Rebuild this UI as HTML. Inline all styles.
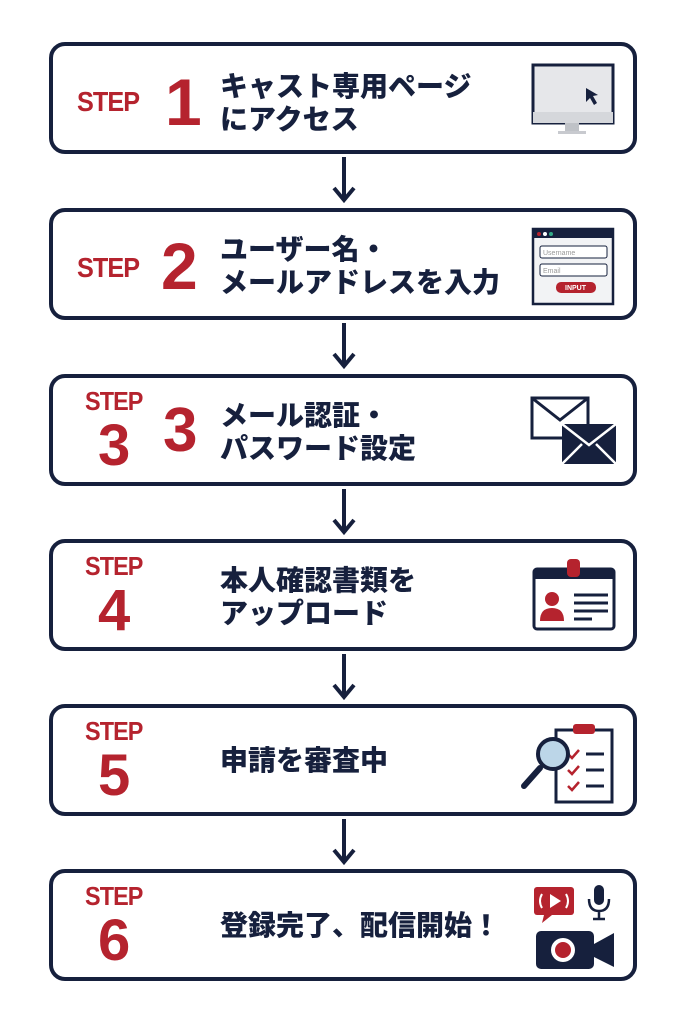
<!DOCTYPE html>
<html><head><meta charset="utf-8"><style>
body{margin:0;width:687px;height:1024px;background:#fff;position:relative;overflow:hidden;font-family:"Liberation Sans","Noto Sans CJK JP",sans-serif}
.box{position:absolute;left:49px;width:580px;height:104px;border:4px solid #16203d;border-radius:16px;background:#fff}
.t{position:absolute;left:167px;color:#16203d;font-weight:900;font-size:28px;line-height:33px;letter-spacing:0}
.st{position:absolute;color:#b5232e;font-weight:bold;font-size:28px;letter-spacing:-1px;transform:scaleX(0.9);transform-origin:left}
.n{position:absolute;color:#b5232e;font-weight:bold}
.ar{position:absolute;left:331px}
.ic{position:absolute;left:477px}
</style></head><body>

<div class="box" style="top:42px">
 <div class="st" style="left:24px;top:40px">STEP</div>
 <div class="n" style="left:112px;top:20px;font-size:66px;line-height:72px">1</div>
 <div class="t" style="top:24px">キャスト専用ページ<br>にアクセス</div>
 <svg class="ic" style="top:14px" width="90" height="80"><rect x="3" y="5" width="80" height="58" fill="#e6e7ea" stroke="#16203d" stroke-width="3"/><rect x="3" y="52" width="80" height="11" fill="#d5d7db"/><rect x="35" y="63" width="14" height="8" fill="#bfc2c7"/><rect x="28" y="71" width="28" height="3" fill="#c8cacf"/><path d="M56 28 L56 42 L60 38 L64 45 L67 43 L63 36 L68 35Z" fill="#16203d"/></svg>
</div>

<svg class="ar" style="top:157px" width="26" height="48"><path d="M13 0V42M3 31L13 43L23 31" fill="none" stroke="#16203d" stroke-width="4"/></svg>

<div class="box" style="top:208px">
 <div class="st" style="left:24px;top:40px">STEP</div>
 <div class="n" style="left:108px;top:18px;font-size:66px;line-height:72px">2</div>
 <div class="t" style="top:21px">ユーザー名・<br>メールアドレスを入力</div>
 <svg class="ic" style="top:14px" width="90" height="80"><rect x="3" y="3" width="80" height="75" fill="#f2f3f5" stroke="#16203d" stroke-width="2.5"/><rect x="3" y="3" width="80" height="9" fill="#16203d"/><circle cx="9" cy="8" r="2" fill="#b5232e"/><circle cx="15" cy="8" r="2" fill="#fff"/><circle cx="21" cy="8" r="2" fill="#3a8"/><rect x="10" y="20" width="67" height="12" rx="2" fill="#fff" stroke="#16203d"/><text x="13" y="29" font-size="7" fill="#999">Username</text><rect x="10" y="38" width="67" height="12" rx="2" fill="#fff" stroke="#16203d"/><text x="13" y="47" font-size="7" fill="#999">Email</text><rect x="26" y="56" width="40" height="11" rx="5" fill="#b5232e"/><text x="35" y="64" font-size="7" font-weight="bold" fill="#fff">INPUT</text></svg>
</div>

<svg class="ar" style="top:323px" width="26" height="48"><path d="M13 0V42M3 31L13 43L23 31" fill="none" stroke="#16203d" stroke-width="4"/></svg>

<div class="box" style="top:374px">
 <div class="st" style="left:32px;top:8px;font-size:26px">STEP</div>
 <div class="n" style="left:45px;top:38px;font-size:58px;line-height:60px">3</div>
 <div class="n" style="left:110px;top:18px;font-size:62px;line-height:70px">3</div>
 <div class="t" style="top:21px">メール認証・<br>パスワード設定</div>
 <svg class="ic" style="top:14px" width="90" height="80"><rect x="2" y="6" width="56" height="40" fill="#fff" stroke="#16203d" stroke-width="3"/><path d="M2 6L30 28L58 6" fill="none" stroke="#16203d" stroke-width="3"/><rect x="32" y="32" width="54" height="40" fill="#16203d"/><path d="M32 32L59 53L86 32M32 72L52 52M86 72L66 52" fill="none" stroke="#fff" stroke-width="2.5"/></svg>
</div>

<svg class="ar" style="top:489px" width="26" height="48"><path d="M13 0V42M3 31L13 43L23 31" fill="none" stroke="#16203d" stroke-width="4"/></svg>

<div class="box" style="top:539px">
 <div class="st" style="left:32px;top:8px;font-size:26px">STEP</div>
 <div class="n" style="left:45px;top:38px;font-size:58px;line-height:60px">4</div>
 <div class="t" style="top:21px">本人確認書類を<br>アップロード</div>
 <svg class="ic" style="top:14px" width="90" height="80"><rect x="4" y="12" width="80" height="60" rx="3" fill="#fff" stroke="#16203d" stroke-width="3"/><rect x="4" y="12" width="80" height="10" fill="#16203d"/><rect x="37" y="2" width="13" height="18" rx="4" fill="#b5232e"/><circle cx="22" cy="42" r="7" fill="#b5232e"/><path d="M10 64Q10 51 22 51Q34 51 34 64Z" fill="#b5232e"/><path d="M44 38H78M44 46H78M44 54H78M44 62H62" stroke="#16203d" stroke-width="3"/></svg>
</div>

<svg class="ar" style="top:654px" width="26" height="48"><path d="M13 0V42M3 31L13 43L23 31" fill="none" stroke="#16203d" stroke-width="4"/></svg>

<div class="box" style="top:704px">
 <div class="st" style="left:32px;top:8px;font-size:26px">STEP</div>
 <div class="n" style="left:45px;top:38px;font-size:58px;line-height:60px">5</div>
 <div class="t" style="top:36px">申請を審査中</div>
 <svg class="ic" style="top:8px;left:465px" width="100" height="92"><rect x="38" y="14" width="56" height="72" fill="#fff" stroke="#16203d" stroke-width="3"/><rect x="55" y="8" width="22" height="10" rx="3" fill="#b5232e"/><path d="M50 38l4 4 7-8M50 54l4 4 7-8M50 70l4 4 7-8" fill="none" stroke="#b5232e" stroke-width="2.5"/><path d="M68 38H86M68 54H86M68 70H86" stroke="#16203d" stroke-width="3"/><line x1="22" y1="52" x2="6" y2="70" stroke="#16203d" stroke-width="6" stroke-linecap="round"/><circle cx="35" cy="38" r="15" fill="#bcd6e8" stroke="#16203d" stroke-width="4"/></svg>
</div>

<svg class="ar" style="top:819px" width="26" height="48"><path d="M13 0V42M3 31L13 43L23 31" fill="none" stroke="#16203d" stroke-width="4"/></svg>

<div class="box" style="top:869px">
 <div class="st" style="left:32px;top:8px;font-size:26px">STEP</div>
 <div class="n" style="left:45px;top:38px;font-size:58px;line-height:60px">6</div>
 <div class="t" style="top:36px">登録完了、配信開始！</div>
 <svg class="ic" style="top:8px" width="95" height="92"><rect x="4" y="6" width="40" height="28" rx="3" fill="#b5232e"/><path d="M14 34L12 42L22 34Z" fill="#b5232e"/><path d="M20 13L31 20L20 27Z" fill="#fff"/><path d="M12 13Q8 20 12 27M36 13Q40 20 36 27" fill="none" stroke="#fff" stroke-width="2"/><rect x="64" y="4" width="10" height="20" rx="5" fill="#16203d"/><path d="M59 18Q59 30 69 30Q79 30 79 18M69 30V38M63 38H75" fill="none" stroke="#16203d" stroke-width="2.5"/><rect x="6" y="50" width="58" height="38" rx="5" fill="#16203d"/><path d="M64 63L84 52V86L64 76Z" fill="#16203d"/><circle cx="33" cy="69" r="12" fill="#fff"/><circle cx="33" cy="69" r="8" fill="#b5232e"/></svg>
</div>

</body></html>
